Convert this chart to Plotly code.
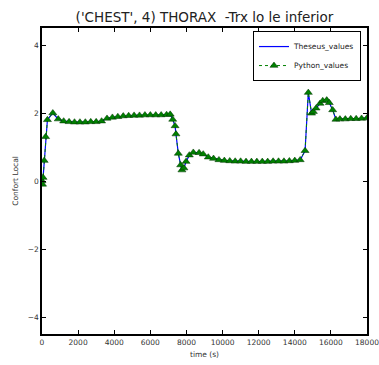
import plotly.graph_objects as go

time_s = [0, 30, 60, 120, 200, 300, 600, 900, 1200, 1500, 1800, 2100, 2400, 2700, 3000,
          3300, 3600, 3900, 4200, 4500, 4800, 5100, 5400, 5700, 6000, 6300, 6600, 6900,
          7100, 7240, 7370, 7420, 7550, 7680, 7750, 7860, 7980, 8160, 8380, 8700, 8930,
          9210, 9500, 9800, 10100, 10400, 10700, 11000, 11300, 11600, 11900, 12200,
          12500, 12800, 13100, 13400, 13700, 14000, 14300, 14570, 14750, 14930, 15030,
          15180, 15400, 15550, 15770, 15910, 16100, 16280, 16500, 16800, 17100, 17400,
          17700, 18000]
theseus_values = [0.0, -0.1, 0.1, 0.6, 1.3, 1.8, 2.0, 1.82, 1.76, 1.74, 1.73, 1.73, 1.73,
                  1.74, 1.74, 1.76, 1.84, 1.87, 1.89, 1.91, 1.92, 1.93, 1.93, 1.94, 1.94,
                  1.94, 1.94, 1.95, 1.96, 1.81, 1.62, 1.38, 0.81, 0.47, 0.32, 0.38, 0.57,
                  0.76, 0.84, 0.83, 0.79, 0.70, 0.66, 0.62, 0.60, 0.59, 0.58, 0.58, 0.57,
                  0.57, 0.57, 0.57, 0.57, 0.58, 0.58, 0.58, 0.59, 0.60, 0.62, 0.89, 2.6,
                  1.99, 2.04, 2.14, 2.28, 2.36, 2.38, 2.30, 2.09, 1.81, 1.82, 1.82, 1.83,
                  1.83, 1.84, 1.85]
python_values = list(theseus_values)

x_ticks = [0, 2000, 4000, 6000, 8000, 10000, 12000, 14000, 16000, 18000]
y_ticks = [-4, -2, 0, 2, 4]

FONT = "DejaVu Sans"

fig = go.Figure()
fig.add_trace(go.Scatter(
    x=time_s, y=theseus_values, name="Theseus_values", mode="lines",
    line=dict(color="#0000ff", width=1.2)))
fig.add_trace(go.Scatter(
    x=time_s, y=python_values, name="Python_values", mode="lines+markers",
    line=dict(color="#008000", width=1, dash="dot"),
    marker=dict(symbol="triangle-up", size=7, color="#008000",
                line=dict(color="#003300", width=0.5))))

axis_common = dict(
    showline=True, linecolor="black", linewidth=1.5, mirror="ticks",
    ticks="inside", ticklen=4, tickcolor="black", tickwidth=0.8,
    showgrid=False, zeroline=False, automargin=False,
    ticklabeloverflow="allow",
    tickfont=dict(family=FONT, size=7.5, color="#333333"),
)

fig.update_layout(
    width=379, height=365,
    margin=dict(l=42, r=12, t=28, b=31),
    paper_bgcolor="white", plot_bgcolor="white",
    title=dict(text="('CHEST', 4) THORAX  -Trx lo le inferior",
               x=(42 + 367) / 2 / 379, xanchor="center", y=1 - 17 / 365, yanchor="middle",
               font=dict(family=FONT, size=13.5, color="#222222")),
    xaxis=dict(range=[0, 18000], tickvals=x_ticks, ticktext=[str(v) for v in x_ticks],
               title=dict(text="time (s)", standoff=6,
                          font=dict(family=FONT, size=7.5, color="#333333")),
               **axis_common),
    yaxis=dict(range=[-4.5, 4.5], tickvals=y_ticks,
               title=dict(text="Confort Local", standoff=8,
                          font=dict(family=FONT, size=7.5, color="#333333")),
               **axis_common),
    legend=dict(x=0.9815, xanchor="right", y=0.99, yanchor="top",
                bordercolor="black", borderwidth=1, bgcolor="white",
                font=dict(family=FONT, size=7.5, color="#222222"),
                itemwidth=30, tracegroupgap=0),
    showlegend=True,
)

fig.write_html("out.html",
               config={"displayModeBar": False},
               post_script="document.body.style.margin='0';document.body.style.padding='0';")
